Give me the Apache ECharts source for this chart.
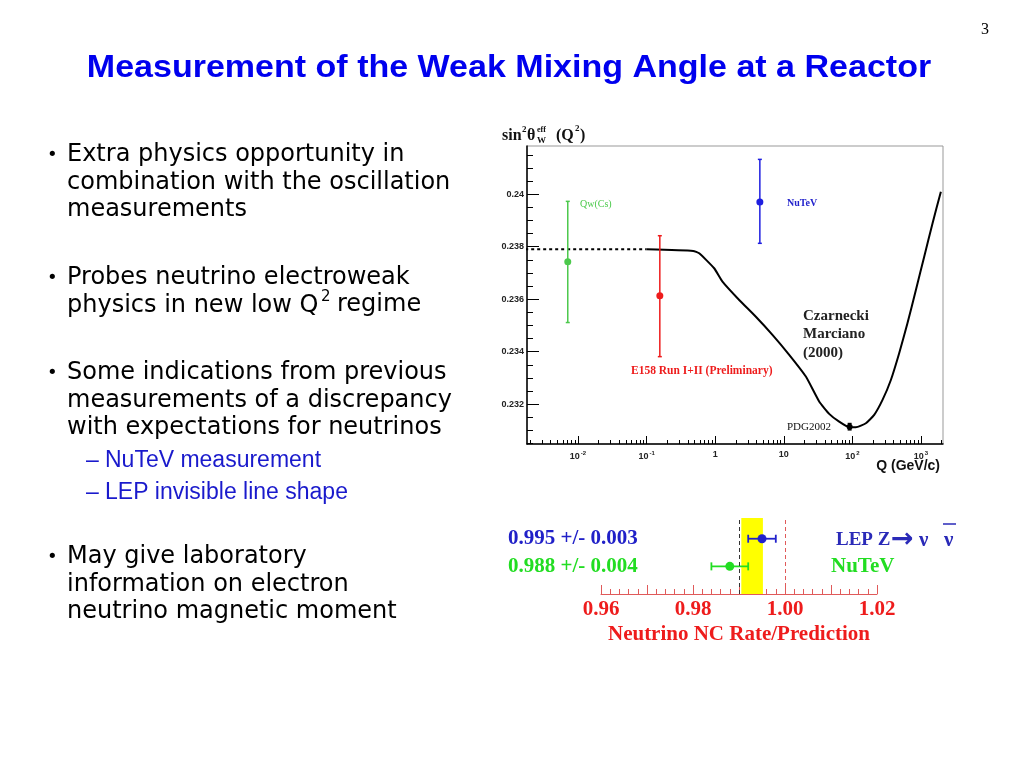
<!DOCTYPE html>
<html><head><meta charset="utf-8">
<script src="https://cdn.jsdelivr.net/npm/echarts@6/dist/echarts.min.js"></script>
<style>html,body{margin:0;padding:0;background:#fff}#c{width:1024px;height:768px}</style>
</head><body><div id="c"></div>
<script>
// ---------- Data: weak mixing angle vs Q ----------
const curveQ = [0.1, 0.478, 0.585, 0.967, 1.278, 2.24, 3.92, 6.84, 12.0, 21.0, 32.8, 45.9, 64.2, 89.8, 112.5, 157.3, 208, 275, 364, 481, 635, 843, 1114, 1472, 1950];
const curveV = [0.2379, 0.23784, 0.23775, 0.23718, 0.23667, 0.23597, 0.23533, 0.23464, 0.23388, 0.23305, 0.2321, 0.23163, 0.23133, 0.23112, 0.23112, 0.23127, 0.23159, 0.23216, 0.23292, 0.23394, 0.23508, 0.23635, 0.23762, 0.23889, 0.2401];
const dottedQ = [0.0017, 0.1];
const dottedV = [0.2379, 0.2379];
const measNames = ['Qw(Cs)', 'E158 Run I+II (Preliminary)', 'NuTeV'];
const measQ = [0.0071, 0.156, 4.48];
const measV = [0.23743, 0.23613, 0.23971];
const measLo = [0.23511, 0.23381, 0.23813];
const measHi = [0.23973, 0.23842, 0.24133];
const measColors = ['#4cc94c', '#ee1c1c', '#1f1fe0'];
const pdgQ = [91.2];
const pdgV = [0.23114];
const pdgErr = [0.00012];
const yTickLabels = [0.232, 0.234, 0.236, 0.238, 0.24];
const xDecades = [-2, -1, 0, 1, 2, 3];

// ---------- Data: NC rate / prediction ----------
const ratioNames = ['NuTeV', 'LEP Z\u2192\u03bd\u03bd\u0304'];
const ratioRow = [1, 2];
const ratioVal = [0.988, 0.995];
const ratioErr = [0.004, 0.003];
const ratioColors = ['#22dd22', '#2222cc'];
const bandLo = 0.9905, bandHi = 0.9952, bandCenter = 0.9928;
const refLine = 1.00;
const ratioTickLabels = [0.96, 0.98, 1.00, 1.02];

// ---------- tick helpers ----------
const minorX = [];
for (let n = -3; n <= 3; n++) for (let k = 2; k <= 9; k++) { const v = Math.log10(k) + n; if (v > -2.743 && v < 3.321) minorX.push(v); }
const minorY = [];
for (let i = 0; i <= 22; i++) minorY.push(+(0.2305 + i * 0.0005).toFixed(4));
const ratioMajor = [0.96, 0.97, 0.98, 0.99, 1.00, 1.01, 1.02];
const ratioMinor = [];
for (let i = 0; i <= 30; i++) ratioMinor.push(+(0.96 + i * 0.002).toFixed(3));

const chart = echarts.init(document.getElementById('c'));

function vErr(params, api) {
  const x = api.value(0), lo = api.value(1), hi = api.value(2);
  const p1 = api.coord([x, hi]), p2 = api.coord([x, lo]);
  const c = api.visual('color'); const cap = 2;
  const st = { stroke: c, lineWidth: 1.5 };
  return { type: 'group', children: [
    { type: 'line', shape: { x1: p1[0], y1: p1[1], x2: p2[0], y2: p2[1] }, style: st },
    { type: 'line', shape: { x1: p1[0] - cap, y1: p1[1], x2: p1[0] + cap, y2: p1[1] }, style: st },
    { type: 'line', shape: { x1: p2[0] - cap, y1: p2[1], x2: p2[0] + cap, y2: p2[1] }, style: st }
  ]};
}
function hErr(params, api) {
  const y = api.value(0), lo = api.value(1), hi = api.value(2);
  const p1 = api.coord([lo, y]), p2 = api.coord([hi, y]);
  const c = api.visual('color'); const cap = 4;
  const st = { stroke: c, lineWidth: 1.8 };
  return { type: 'group', children: [
    { type: 'line', shape: { x1: p1[0], y1: p1[1], x2: p2[0], y2: p2[1] }, style: st },
    { type: 'line', shape: { x1: p1[0], y1: p1[1] - cap, x2: p1[0], y2: p1[1] + cap }, style: st },
    { type: 'line', shape: { x1: p2[0], y1: p2[1] - cap, x2: p2[0], y2: p2[1] + cap }, style: st }
  ]};
}

const sans = '"Liberation Sans", Arial, sans-serif';
const serif = '"Liberation Serif", "Times New Roman", serif';
const axisLblFont = { fontFamily: sans, fontWeight: 'bold', fontSize: 9, color: '#222' };

const bulletFont = '24px "DejaVu Sans", sans-serif';
const bullets = [
  { y: 155, lines: ['Extra physics opportunity in', 'combination with the oscillation', 'measurements'] },
  { y: 278, lines: ['Probes neutrino electroweak', 'physics in new low Q'] },
  { y: 373, lines: ['Some indications from previous', 'measurements of a discrepancy', 'with expectations for neutrinos'] },
  { y: 557, lines: ['May give laboratory', 'information on electron', 'neutrino magnetic moment'] }
];
const subBullets = [{ y: 461, t: 'NuTeV measurement' }, { y: 493, t: 'LEP invisible line shape' }];

const graphics = [];
function txt(t, x, y, font, fill, align, extra) {
  graphics.push(Object.assign({ type: 'text', x: x, y: y, silent: true,
    style: { text: t, font: font, fill: fill, align: align || 'left', verticalAlign: 'middle' } }, extra || {}));
}
txt('3', 985, 30, '16px ' + serif, '#000', 'center');
txt('Measurement of the Weak Mixing Angle at a Reactor', 509, 68, 'bold 32px ' + sans, '#0000ee', 'center', { scaleX: 1.063 });
bullets.forEach(b => {
  txt('\u2022', 47, b.y, '18px "DejaVu Sans", sans-serif', '#000', 'left');
  b.lines.forEach((l, i) => txt(l, 67, b.y + i * 27.5, bulletFont, '#000', 'left'));
});
txt('2', 321, 297, '15px "DejaVu Sans", sans-serif', '#000', 'left');
txt('regime', 337, 305, bulletFont, '#000', 'left');
subBullets.forEach(s => {
  txt('\u2013', 86, s.y, '23px ' + sans, '#1a1acc', 'left');
  txt(s.t, 105, s.y, '23px ' + sans, '#1a1acc', 'left');
});

// top chart annotations
const tf = 'bold 16px ' + serif;
txt('sin', 502, 136, tf, '#111');
txt('2', 522, 130, 'bold 9px ' + serif, '#111');
txt('\u03b8', 527, 136, tf, '#111');
txt('eff', 537, 130, 'bold 8px ' + serif, '#111');
txt('W', 537, 141, 'bold 9px ' + serif, '#111');
txt('(Q', 556, 136, tf, '#111');
txt('2', 575, 129, 'bold 9px ' + serif, '#111');
txt(')', 580, 136, tf, '#111');
txt('Qw(Cs)', 580, 204, '10px ' + serif, '#4cc94c');
txt('NuTeV', 787, 203, 'bold 10px ' + serif, '#2222cc');
txt('E158 Run I+II (Preliminary)', 631, 371, 'bold 11.5px ' + serif, '#ee1c1c');
txt('Czarnecki', 803, 316, 'bold 15px ' + serif, '#222');
txt('Marciano', 803, 334, 'bold 15px ' + serif, '#222');
txt('(2000)', 803, 353, 'bold 15px ' + serif, '#222');
txt('PDG2002', 787, 427, '11px ' + serif, '#111');
txt('Q (GeV/c)', 940, 466, 'bold 14px ' + sans, '#111', 'right');

// bottom chart annotations
txt('0.995 +/- 0.003', 508, 539, 'bold 21px ' + serif, '#2020c8');
txt('0.988 +/- 0.004', 508, 567, 'bold 21px ' + serif, '#22dd22');
txt('LEP Z', 836, 540, 'bold 19px ' + serif, '#2a2ab8');
txt('\u2192', 891, 540, 'bold 27px "DejaVu Sans", sans-serif', '#2a2ab8');
txt('\u03bd', 919, 541, 'bold 21px ' + serif, '#2a2ab8');
txt('\u03bd', 944, 541, 'bold 21px ' + serif, '#2a2ab8');
graphics.push({ type: 'line', silent: true, shape: { x1: 943, y1: 524, x2: 956, y2: 524 }, style: { stroke: '#2a2ab8', lineWidth: 1.5 } });
txt('NuTeV', 831, 567, 'bold 21px ' + serif, '#22dd22');

const option = {
  animation: false,
  backgroundColor: '#fff',
  grid: [
    { left: 527, top: 146, width: 416, height: 298, show: true, borderColor: '#999', borderWidth: 1, backgroundColor: 'transparent' },
    { left: 601, top: 518, width: 276, height: 76 }
  ],
  xAxis: [
    { gridIndex: 0, type: 'value', position: 'bottom', min: -2.743, max: 3.321,
      axisLine: { onZero: false, lineStyle: { color: '#000', width: 1.5 } },
      axisTick: { inside: true, length: 8, customValues: xDecades, lineStyle: { color: '#000' } },
      splitLine: { show: false },
      axisLabel: { customValues: xDecades, margin: 6,
        formatter: v => { const n = Math.round(v); if (n === 0) return '{b|1}'; if (n === 1) return '{b|10}'; return '{b|10}{s|' + n + '}'; },
        rich: { b: { fontFamily: sans, fontWeight: 'bold', fontSize: 9, color: '#222' },
                s: { fontFamily: sans, fontWeight: 'bold', fontSize: 6, color: '#222', padding: [0, 0, 7, 1] } } } },
    { gridIndex: 0, type: 'value', position: 'bottom', min: -2.743, max: 3.321,
      axisLine: { show: false, onZero: false }, splitLine: { show: false }, axisLabel: { show: false },
      axisTick: { inside: true, length: 4, customValues: minorX, lineStyle: { color: '#000' } } },
    { gridIndex: 1, type: 'value', position: 'bottom', min: 0.96, max: 1.02,
      name: 'Neutrino NC Rate/Prediction', nameLocation: 'middle', nameGap: 30,
      nameTextStyle: { fontFamily: serif, fontWeight: 'bold', fontSize: 21, color: '#ee1c1c' },
      axisLine: { onZero: false, lineStyle: { color: '#e05a5a', width: 1 } },
      axisTick: { inside: true, length: 9, customValues: ratioMajor, lineStyle: { color: '#e05a5a' } },
      splitLine: { show: false },
      axisLabel: { customValues: ratioTickLabels, margin: 5, formatter: v => v.toFixed(2),
        fontFamily: serif, fontWeight: 'bold', fontSize: 21, color: '#ee1c1c' } },
    { gridIndex: 1, type: 'value', position: 'bottom', min: 0.96, max: 1.02,
      axisLine: { show: false, onZero: false }, splitLine: { show: false }, axisLabel: { show: false },
      axisTick: { inside: true, length: 5, customValues: ratioMinor, lineStyle: { color: '#e05a5a' } } }
  ],
  yAxis: [
    { gridIndex: 0, type: 'value', position: 'left', min: 0.23048, max: 0.24184,
      axisLine: { show: true, onZero: false, lineStyle: { color: '#000', width: 1.5 } },
      axisTick: { show: true, inside: true, length: 12, customValues: yTickLabels, lineStyle: { color: '#000' } },
      splitLine: { show: false },
      axisLabel: Object.assign({ customValues: yTickLabels, margin: 3, formatter: v => String(+v.toFixed(3)) }, axisLblFont) },
    { gridIndex: 0, type: 'value', position: 'left', min: 0.23048, max: 0.24184,
      axisLine: { show: false, onZero: false }, splitLine: { show: false }, axisLabel: { show: false },
      axisTick: { show: true, inside: true, length: 6, customValues: minorY, lineStyle: { color: '#000' } } },
    { gridIndex: 1, type: 'value', min: 0, max: 2.75, show: false }
  ],
  graphic: graphics,
  series: [
    { type: 'line', xAxisIndex: 0, yAxisIndex: 0, symbol: 'none', z: 3,
      data: dottedQ.map((q, i) => [Math.log10(q), dottedV[i]]),
      lineStyle: { color: '#000', width: 2, type: [3, 3] } },
    { type: 'line', xAxisIndex: 0, yAxisIndex: 0, symbol: 'none', smooth: 0.15, z: 3,
      data: curveQ.map((q, i) => [Math.log10(q), curveV[i]]),
      lineStyle: { color: '#000', width: 2, join: 'round' } },
    { type: 'custom', xAxisIndex: 0, yAxisIndex: 0, renderItem: vErr, z: 4,
      data: measQ.map((q, i) => ({ name: measNames[i], value: [Math.log10(q), measLo[i], measHi[i]], itemStyle: { color: measColors[i] } })) },
    { type: 'scatter', xAxisIndex: 0, yAxisIndex: 0, symbolSize: 7, z: 5,
      data: measQ.map((q, i) => ({ name: measNames[i], value: [Math.log10(q), measV[i]], itemStyle: { color: measColors[i], opacity: 1 } })) },
    { type: 'custom', xAxisIndex: 0, yAxisIndex: 0, renderItem: vErr, z: 4,
      data: pdgQ.map((q, i) => ({ value: [Math.log10(q), pdgV[i] - pdgErr[i], pdgV[i] + pdgErr[i]], itemStyle: { color: '#000' } })) },
    { type: 'scatter', xAxisIndex: 0, yAxisIndex: 0, symbolSize: 6, z: 5,
      data: pdgQ.map((q, i) => [Math.log10(q), pdgV[i]]), itemStyle: { color: '#000', opacity: 1 } },
    { type: 'custom', xAxisIndex: 2, yAxisIndex: 2, renderItem: hErr, z: 4,
      data: ratioVal.map((v, i) => ({ name: ratioNames[i], value: [ratioRow[i], v - ratioErr[i], v + ratioErr[i]], itemStyle: { color: ratioColors[i] } })),
      markArea: { silent: true, itemStyle: { color: '#ffff00' }, data: [[{ xAxis: bandLo }, { xAxis: bandHi }]] },
      markLine: { silent: true, symbol: 'none', label: { show: false },
        data: [ { xAxis: refLine, lineStyle: { color: '#e05a5a', width: 1, type: [4, 3] } },
                { xAxis: bandCenter, lineStyle: { color: '#333', width: 1, type: [4, 3] } } ] } },
    { type: 'scatter', xAxisIndex: 2, yAxisIndex: 2, symbolSize: 9, z: 5,
      data: ratioVal.map((v, i) => ({ name: ratioNames[i], value: [v, ratioRow[i]], itemStyle: { color: ratioColors[i], opacity: 1 } })) }
  ]
};
chart.setOption(option);
</script></body></html>
